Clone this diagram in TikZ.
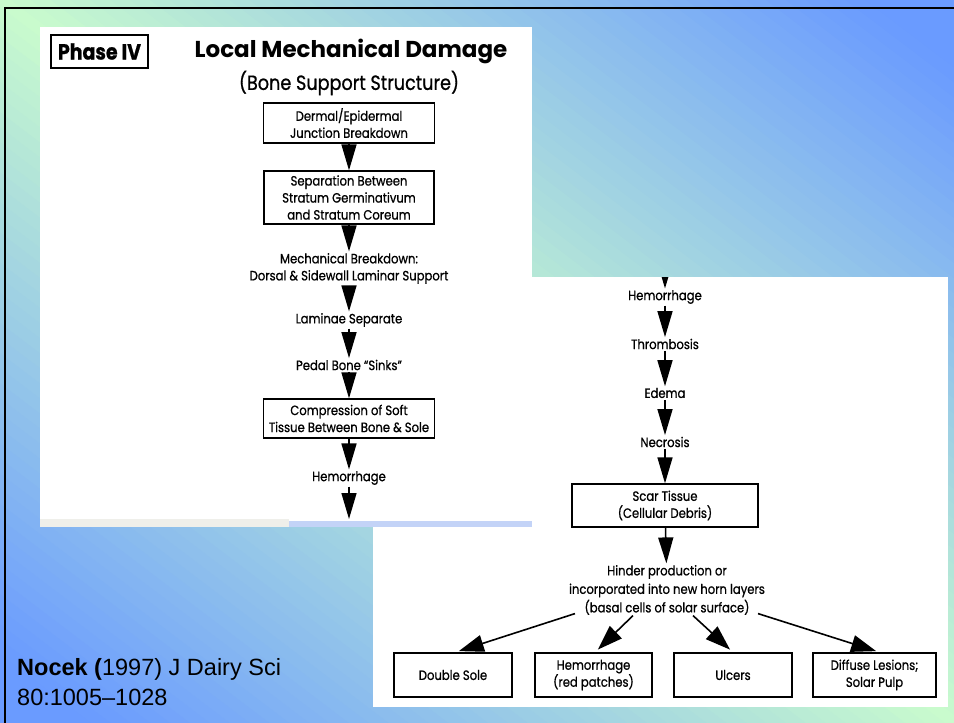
\documentclass[tikz,border=0pt]{standalone}
\usepackage{fontspec}
\usepackage{tikz, xcolor}
\usetikzlibrary{arrows.meta}
\setmainfont{Poppins}
\newfontfamily\narrowfont{Poppins}[FakeStretch=0.86, FakeBold=0.8, Ligatures=TeX]
\newfontfamily\citefont{Liberation Sans}

\definecolor{bggreen}{HTML}{C9FBCD}
\definecolor{bgblue}{HTML}{6A9BFF}
\definecolor{stripgrey}{HTML}{EFEFEA}
\definecolor{stripblue}{HTML}{C3D3F7}

\newcommand{\flowfont}{\narrowfont\fontsize{13.5}{17}\selectfont}

\tikzset{
  flowbox/.style={draw, line width=1.3pt, inner sep=0pt, align=center, font=\flowfont},
  flowtext/.style={inner sep=1.5pt, align=center, font=\flowfont},
  flow/.style={line width=1.5pt, -{Triangle[length=26pt, width=15pt]}},
  branch/.style={line width=1.6pt, -{Triangle[length=25pt, width=17pt]}}
}

\begin{document}
\begin{tikzpicture}[x=1pt, y=-1pt]
  \useasboundingbox (0, 0) rectangle (954, 723);
  \begin{scope}
    \clip (0, 0) rectangle (954, 723);
    \foreach \i in {-50,...,50}
    {
      \pgfmathsetmacro{\p}{min(100, abs(\i)*12/520*100)}
      \fill [bgblue!\p!bggreen, shift={(477, 361.5)}, rotate=-37.16]
        (-800, \i*12-6.5) rectangle (800, \i*12+6.5);
    }
  \end{scope}
  \draw [line width=2pt] (5, 723) -- (5, 8.3) -- (954, 8.3);

  % right page
  \fill [white] (373, 277) rectangle (948, 707);
  \coordinate (cut) at (665, 250);
  \node [flowtext] (hemoR) at (665, 297) {Hemorrhage};
  \node [flowtext] (thrombosis) at (665, 344) {Thrombosis};
  \node [flowtext] (edema) at (665, 393) {Edema};
  \node [flowtext] (necrosis) at (665, 442) {Necrosis};
  \node [flowbox, minimum width=186pt, minimum height=43pt] (scar) at (665, 505.5)
    {Scar Tissue\\(Cellular Debris)};
  \node [flowtext, font=\narrowfont\fontsize{13.5}{18.5}\selectfont] (hinder) at (667, 590)
    {Hinder production or\\incorporated into new horn layers\\(basal cells of solar surface)};
  \node [flowbox, minimum width=118pt, minimum height=44pt] (doublesole) at (453, 675) {Double Sole};
  \node [flowbox, minimum width=117pt, minimum height=44pt] (hemopatch) at (593.5, 675) {Hemorrhage\\(red patches)};
  \node [flowbox, minimum width=118pt, minimum height=44pt] (ulcers) at (733, 675) {Ulcers};
  \node [flowbox, minimum width=123pt, minimum height=44pt] (diffuse) at (874.5, 675) {Diffuse Lesions;\\Solar Pulp};

  \begin{scope}
    \clip (373, 277) rectangle (948, 707);
    \draw [flow] (cut) -- (hemoR);
  \end{scope}
  \draw [flow] (hemoR) -- (thrombosis);
  \draw [flow] (thrombosis) -- (edema);
  \draw [flow] (edema) -- (necrosis);
  \draw [flow] (necrosis) -- (scar);
  \draw [flow] (scar) -- (hinder);
  \draw [branch, shorten >=4pt] ([shift={(-92, -3)}]hinder.south) -- ([xshift=2pt]doublesole.north);
  \draw [branch, shorten >=4pt] ([shift={(-34, -1)}]hinder.south) -- ([xshift=1.5pt]hemopatch.north);
  \draw [branch, shorten >=4pt] ([shift={(26, -1)}]hinder.south) -- (ulcers.north);
  \draw [branch, shorten >=4pt] ([shift={(91, -3)}]hinder.south) -- ([xshift=5.5pt]diffuse.north);

  % left page
  \fill [white] (40, 27) rectangle (532, 527);
  \fill [stripgrey] (40, 519) rectangle (289, 527);
  \fill [stripblue] (289, 521) rectangle (532, 527);
  \node [draw, line width=1.3pt, minimum width=97pt, minimum height=33pt, inner sep=0pt,
    font=\narrowfont\bfseries\fontsize{22}{24}\selectfont] (phase) at (99.5, 51.5) {Phase IV};
  \node [font=\bfseries\fontsize{23}{26}\selectfont] (title) at (351, 51) {Local Mechanical Damage};
  \node [font=\narrowfont\fontsize{20.5}{23}\selectfont] (subtitle) at (349, 83) {(Bone Support Structure)};
  \node [flowbox, minimum width=171pt, minimum height=40pt] (dermal) at (349, 123)
    {Dermal/Epidermal\\Junction Breakdown};
  \node [flowbox, minimum width=170pt, minimum height=53pt] (separation) at (349, 197.5)
    {Separation Between\\Stratum Germinativum\\and Stratum Coreum};
  \node [flowtext] (mechanical) at (349, 268.5)
    {Mechanical Breakdown:\\Dorsal \& Sidewall Laminar Support};
  \node [flowtext] (laminae) at (349, 320) {Laminae Separate};
  \node [flowtext] (pedal) at (349, 365) {Pedal Bone “Sinks”};
  \node [flowbox, minimum width=171pt, minimum height=39pt] (compression) at (349, 418.5)
    {Compression of Soft\\Tissue Between Bone \& Sole};
  \node [flowtext] (hemoL) at (349, 478) {Hemorrhage};
  \coordinate (leftend) at (349, 519);

  \draw [flow] (dermal) -- (separation);
  \draw [flow] (separation) -- (mechanical);
  \draw [flow] (mechanical) -- (laminae);
  \draw [flow] (laminae) -- (pedal);
  \draw [flow] (pedal) -- (compression);
  \draw [flow] (compression) -- (hemoL);
  \draw [flow] (hemoL) -- (leftend);

  \node [anchor=west, align=left, inner sep=0pt, font=\citefont\fontsize{23.5}{30}\selectfont]
    (cite) at (17, 682) {\textbf{Nocek (}1997) J Dairy Sci\\80:1005–1028};
\end{tikzpicture}
\end{document}
